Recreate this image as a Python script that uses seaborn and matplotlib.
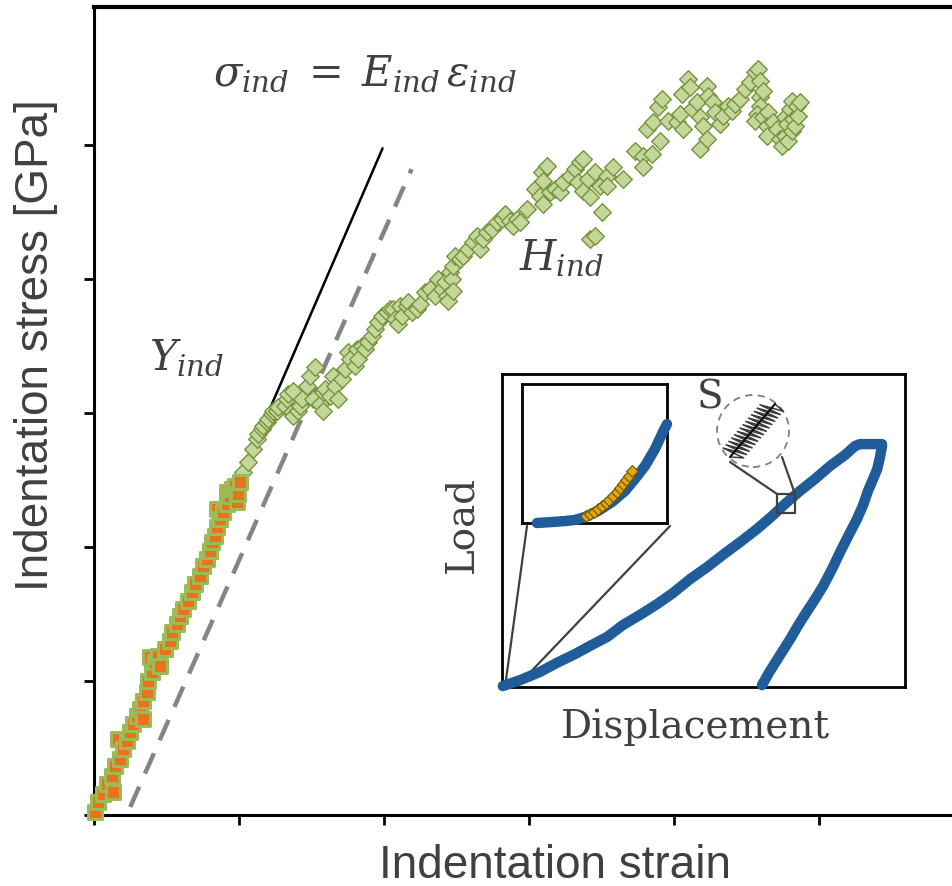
import numpy as np
import matplotlib
matplotlib.use("Agg")
import matplotlib.pyplot as plt
import seaborn as sns
from matplotlib.patches import Ellipse, Rectangle
from matplotlib import font_manager

# ---------------- data (tick units: strain ticks / stress ticks) ----------------
yield_strain = [0.007, 0.028, 0.062, 0.090, 0.124, 0.131, 0.145, 0.166, 0.179, 0.200,
                0.228, 0.248, 0.269, 0.297, 0.317, 0.338, 0.338, 0.366, 0.372, 0.386,
                0.400, 0.421, 0.441, 0.455, 0.490, 0.524, 0.538, 0.572, 0.593, 0.614,
                0.648, 0.676, 0.697, 0.731, 0.752, 0.779, 0.800, 0.814, 0.834, 0.848,
                0.848, 0.869, 0.890, 0.917, 0.917, 0.938, 0.952, 0.972, 0.986, 0.993, 1.007]
yield_stress = [0.022, 0.097, 0.157, 0.231, 0.291, 0.172, 0.366, 0.567, 0.418, 0.493,
                0.552, 0.619, 0.679, 0.739, 0.791, 0.851, 0.716, 0.918, 1.000, 1.179,
                1.067, 1.142, 1.187, 1.112, 1.239, 1.299, 1.366, 1.425, 1.485, 1.537,
                1.597, 1.664, 1.724, 1.784, 1.858, 1.910, 1.970, 2.037, 2.082, 2.149,
                2.284, 2.209, 2.261, 2.321, 2.410, 2.381, 2.433, 2.455, 2.336, 2.396, 2.485]

plastic_strain = [1.028, 1.062, 1.097, 1.124, 1.131, 1.159, 1.166, 1.193, 1.200, 1.228,
                  1.234, 1.262, 1.269, 1.317, 1.331, 1.338, 1.366, 1.372, 1.372, 1.407,
                  1.421, 1.434, 1.469, 1.490, 1.510, 1.524, 1.559, 1.579, 1.579, 1.593,
                  1.628, 1.648, 1.662, 1.683, 1.710, 1.731, 1.752, 1.766, 1.800, 1.814,
                  1.821, 1.848, 1.869, 1.890, 1.917, 1.938, 1.959, 1.986, 2.021, 2.041,
                  2.062, 2.076, 2.097, 2.110, 2.124, 2.159, 2.166, 2.193, 2.228, 2.248,
                  2.283, 2.317, 2.352, 2.372, 2.400, 2.421, 2.434, 2.441, 2.455, 2.469,
                  2.476, 2.476, 2.490, 2.524, 2.545, 2.579, 2.614, 2.641, 2.662, 2.683,
                  2.710, 2.745, 2.779, 2.814, 2.834, 2.869, 2.890, 2.917, 2.938, 2.986,
                  3.041, 3.076, 3.090, 3.097, 3.097, 3.124, 3.145, 3.179, 3.214, 3.234,
                  3.283, 3.317, 3.338, 3.352, 3.372, 3.372, 3.407, 3.421, 3.421, 3.455,
                  3.455, 3.490, 3.503, 3.538, 3.538, 3.579, 3.648, 3.731, 3.786, 3.786,
                  3.814, 3.848, 3.855, 3.890, 3.903, 3.917, 3.959, 4.021, 4.041, 4.055,
                  4.062, 4.097, 4.110, 4.124, 4.159, 4.179, 4.179, 4.200, 4.228, 4.228,
                  4.234, 4.269, 4.283, 4.317, 4.338, 4.372, 4.400, 4.421, 4.455, 4.490,
                  4.524, 4.559, 4.579, 4.593, 4.593, 4.593, 4.614, 4.572, 4.559, 4.614,
                  4.648, 4.641, 4.641, 4.683, 4.710, 4.731, 4.745, 4.766, 4.766, 4.779,
                  4.786, 4.800, 4.814, 4.814, 4.821, 4.834, 4.848, 4.855, 4.869]
plastic_stress = [2.560, 2.634, 2.731, 2.806, 2.843, 2.881, 2.903, 2.933, 2.955, 2.993,
                  3.015, 3.015, 3.045, 3.052, 3.104, 3.142, 3.007, 3.164, 2.978, 3.015,
                  3.052, 3.104, 3.201, 3.276, 3.104, 3.343, 3.067, 3.015, 3.157, 3.179,
                  3.127, 3.276, 3.201, 3.104, 3.254, 3.328, 3.455, 3.403, 3.351, 3.478,
                  3.403, 3.500, 3.478, 3.530, 3.575, 3.627, 3.679, 3.724, 3.754, 3.776,
                  3.776, 3.701, 3.664, 3.799, 3.724, 3.799, 3.828, 3.754, 3.776, 3.813,
                  3.903, 3.925, 3.873, 4.000, 3.925, 3.978, 3.873, 3.836, 4.052, 4.000,
                  3.910, 4.097, 4.172, 4.149, 4.172, 4.224, 4.276, 4.321, 4.224, 4.299,
                  4.351, 4.373, 4.425, 4.448, 4.485, 4.433, 4.396, 4.448, 4.425, 4.522,
                  4.672, 4.619, 4.799, 4.731, 4.560, 4.843, 4.649, 4.672, 4.649, 4.724,
                  4.769, 4.821, 4.724, 4.873, 4.896, 4.657, 4.746, 4.612, 4.299, 4.799,
                  4.321, 4.694, 4.500, 4.769, 4.694, 4.836, 4.746, 4.955, 4.918, 4.836,
                  5.119, 4.933, 5.172, 5.284, 5.030, 5.343, 5.179, 5.172, 5.231, 5.381,
                  5.119, 5.493, 5.433, 5.269, 5.321, 5.209, 4.970, 5.142, 5.440, 5.045,
                  5.366, 5.321, 5.246, 5.157, 5.216, 5.291, 5.254, 5.306, 5.343, 5.418,
                  5.470, 5.545, 5.567, 5.478, 5.358, 5.291, 5.403, 5.231, 5.179, 5.209,
                  5.246, 5.142, 5.067, 5.172, 5.119, 5.045, 4.993, 5.067, 5.209, 5.157,
                  5.030, 5.269, 5.328, 5.104, 5.194, 5.142, 5.291, 5.216, 5.321]

elastic_strain = [1.00, 1.99]
elastic_stress = [2.50, 4.975]
offset_strain = [0.25, 2.19]
offset_stress = [0.06, 4.82]

# inset: normalised load-displacement curve
disp = [0.002, 0.045, 0.094, 0.136, 0.181, 0.218, 0.261, 0.300, 0.342, 0.385,
        0.424, 0.467, 0.509, 0.548, 0.591, 0.633, 0.670, 0.705, 0.739, 0.777,
        0.814, 0.851, 0.876, 0.888, 0.908, 0.928, 0.943,
        0.943, 0.938, 0.931, 0.921, 0.908, 0.896, 0.881, 0.859, 0.839, 0.819,
        0.797, 0.777, 0.754, 0.734, 0.715, 0.690, 0.665, 0.645]
load = [0.003, 0.022, 0.048, 0.077, 0.105, 0.131, 0.160, 0.198, 0.230, 0.265,
        0.300, 0.345, 0.383, 0.422, 0.463, 0.505, 0.546, 0.588, 0.626, 0.665,
        0.706, 0.741, 0.770, 0.776, 0.776, 0.776, 0.776,
        0.770, 0.735, 0.696, 0.665, 0.626, 0.581, 0.537, 0.482, 0.431, 0.377,
        0.323, 0.281, 0.236, 0.195, 0.153, 0.102, 0.051, 0.006]

# zoomed sub-inset (normalised to its own box)
zoom_disp = [0.103, 0.207, 0.297, 0.366, 0.434, 0.524, 0.621, 0.710, 0.779, 0.848, 0.917, 0.972, 1.000]
zoom_load = [0.000, 0.007, 0.014, 0.022, 0.043, 0.086, 0.151, 0.230, 0.317, 0.410, 0.532, 0.655, 0.712]
pop_disp = [0.441, 0.469, 0.497, 0.524, 0.552, 0.579, 0.600, 0.628, 0.655, 0.676, 0.697, 0.717, 0.738, 0.759]
pop_load = [0.050, 0.065, 0.079, 0.101, 0.122, 0.144, 0.165, 0.194, 0.223, 0.252, 0.281, 0.309, 0.338, 0.374]

# ---------------- style ----------------
sns.set_theme(style="ticks")
avail = {f.name for f in font_manager.fontManager.ttflist}
sans = [f for f in ["Liberation Sans Narrow", "Liberation Sans", "DejaVu Sans"] if f in avail]
narrow = "Liberation Sans Narrow" in avail
plt.rcParams["font.family"] = sans
plt.rcParams["mathtext.fontset"] = "dejavuserif"
TXT = "#404040"
W, H = 953, 887
LABEL_FS = 39 if narrow else 33

fig = plt.figure(figsize=(W / 100, H / 100), dpi=100)
ax = fig.add_axes([94 / W, 71 / H, 859 / W, 808 / H])
ax.set_xlim(0, 5.924)
ax.set_ylim(0, 6.03)

sns.lineplot(x=elastic_strain, y=elastic_stress, color="black", linewidth=1.8,
             ax=ax, zorder=2, estimator=None, sort=False)
sns.lineplot(x=offset_strain, y=offset_stress, color="#858585", linewidth=3.2,
             linestyle=(0, (5, 3.2)), ax=ax, zorder=2, estimator=None, sort=False)
sns.scatterplot(x=plastic_strain, y=plastic_stress, marker="D", s=80,
                color="#C4D79B", edgecolor="#76923C", linewidth=1.0, ax=ax, zorder=3)
sns.scatterplot(x=yield_strain, y=yield_stress, marker="s", s=105,
                color="#E8731A", edgecolor="#9BBB59", linewidth=2.2, ax=ax, zorder=4,
                clip_on=False)

ax.set_xticks(range(6))
ax.set_yticks(range(6))
ax.set_xticklabels([])
ax.set_yticklabels([])
ax.tick_params(direction="out", length=7, width=2, color="black",
               bottom=True, left=True, top=False, right=False)
for side in ["left", "bottom", "top"]:
    ax.spines[side].set_color("black")
    ax.spines[side].set_linewidth(2.2)
ax.spines["top"].set_linewidth(3)
ax.spines["right"].set_visible(False)
ax.set_xlabel("")
ax.set_ylabel("")

fig.text(36 / W, 1 - 345 / H, "Indentation stress [GPa]", rotation=90, ha="center",
         va="center", fontsize=LABEL_FS, color=TXT)
fig.text(555 / W, 1 - 878 / H, "Indentation strain", ha="center", va="baseline",
         fontsize=LABEL_FS, color=TXT)

fig.text(365 / W, 1 - 74 / H, r"$\sigma_{ind}\;=\;E_{ind}\,\varepsilon_{ind}$", ha="center",
         va="center", fontsize=30, color=TXT)
fig.text(187 / W, 1 - 358 / H, r"$Y_{ind}$", ha="center", va="center", fontsize=30, color=TXT)
fig.text(561 / W, 1 - 258 / H, r"$H_{ind}$", ha="center", va="center", fontsize=30, color=TXT)

# ---------------- inset ----------------
axi = fig.add_axes([502 / W, 1 - 688 / H, 403 / W, 313 / H])
axi.set_xlim(0, 1)
axi.set_ylim(0, 1)
sns.lineplot(x=disp, y=load, sort=False, estimator=None, color="#1F5C99",
             linewidth=7.5, ax=axi, clip_on=False, solid_capstyle="round", zorder=3)
axi.set_xticks([])
axi.set_yticks([])
axi.set_xlabel("")
axi.set_ylabel("")
for s in axi.spines.values():
    s.set_color("black")
    s.set_linewidth(2)

def to_inset(px, py):
    return (px - 502) / 403, (688 - py) / 313

# connector lines from zoom box to origin
for (p0, p1) in [((527, 527), (505, 688)), ((670, 527), (521, 683))]:
    a = to_inset(*p0); b = to_inset(*p1)
    axi.plot([a[0], b[0]], [a[1], b[1]], color="#404040", lw=1.6, zorder=2)

# small box S and magnifier
bx0, by0 = to_inset(777, 514)
bx1, by1 = to_inset(795, 495)
axi.add_patch(Rectangle((bx0, by0), bx1 - bx0, by1 - by0, fill=False,
                        edgecolor="#404040", lw=1.6, zorder=5))
for (p0, p1) in [((777, 495), (730, 463)), ((795, 495), (782, 458))]:
    a = to_inset(*p0); b = to_inset(*p1)
    axi.plot([a[0], b[0]], [a[1], b[1]], color="#404040", lw=1.6, zorder=4)
cx, cy = to_inset(753, 432)
axi.add_patch(Ellipse((cx, cy), 72 / 403, 72 / 313, fill=True, facecolor="white",
                      edgecolor="#7F7F7F", lw=1.3, linestyle=(0, (4, 3)), zorder=4))
# spring
A = np.array([730.0, 458.0]); B = np.array([775.0, 405.0])
u = (B - A) / np.linalg.norm(B - A)
n = np.array([u[1], -u[0]]) * -1
ncoil = 14
pts = [A]
for k in range(ncoil * 2 + 1):
    t = 0.06 + 0.88 * k / (ncoil * 2)
    sgn = 1 if k % 2 == 0 else -1
    pts.append(A + t * (B - A) + sgn * 11 * n + 4 * u * sgn)
pts.append(B)
sp = np.array([to_inset(*p) for p in pts])
axi.plot(sp[:, 0], sp[:, 1], color="#3A3A3A", lw=1.1, zorder=5)
a = to_inset(*A); b = to_inset(*B)
axi.plot([a[0], b[0]], [a[1], b[1]], color="black", lw=1.4, zorder=6)

fig.text(710 / W, 1 - 398 / H, "S", ha="center", va="center", fontsize=28,
         color=TXT, family=["DejaVu Serif"])
fig.text(462 / W, 1 - 524 / H, "Load", rotation=90, ha="center", va="center",
         fontsize=28, color=TXT, family=["DejaVu Serif"])
fig.text(695 / W, 1 - 738 / H, "Displacement", ha="center", va="baseline",
         fontsize=28, color=TXT, family=["DejaVu Serif"])

# sub-inset
axz = fig.add_axes([522 / W, 1 - 524 / H, 145 / W, 139 / H])
axz.set_xlim(0, 1)
axz.set_ylim(0, 1)
sns.lineplot(x=zoom_disp, y=zoom_load, sort=False, estimator=None, color="#1F5C99",
             linewidth=7.5, ax=axz, clip_on=False, solid_capstyle="round", zorder=3)
sns.scatterplot(x=pop_disp, y=pop_load, marker="D", s=36, color="#E3A810",
                edgecolor="#6B5200", linewidth=0.8, ax=axz, zorder=4)
axz.set_xticks([])
axz.set_yticks([])
axz.set_xlabel("")
axz.set_ylabel("")
for s in axz.spines.values():
    s.set_color("black")
    s.set_linewidth(2)

fig.savefig("out.png", dpi=100)
